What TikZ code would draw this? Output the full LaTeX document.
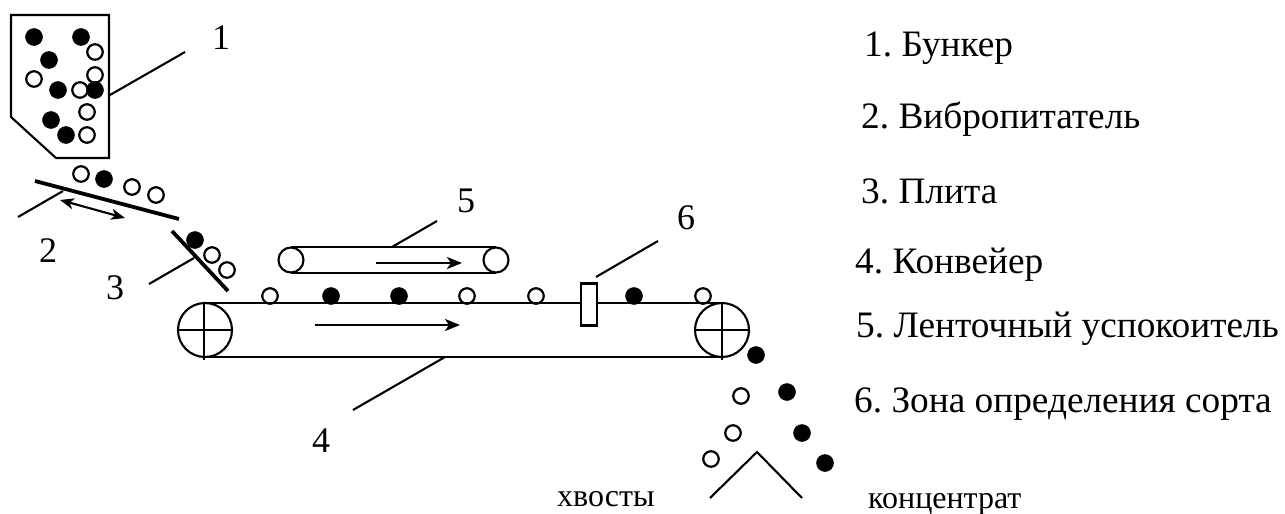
\documentclass[tikz,border=0pt]{standalone}
\usepackage{fontspec}
\usetikzlibrary{arrows.meta}
\setmainfont{Liberation Serif}
\frenchspacing
\begin{document}
\begin{tikzpicture}[x=1pt,y=-1pt,line cap=butt,
  ln/.style={draw=black,line width=2.1pt},
  thick3/.style={draw=black,line width=3.8pt},
  blk/.style={circle,fill=black,draw=black,line width=0.5pt,minimum size=17pt,inner sep=0pt},
  opn/.style={circle,draw=black,line width=2.2pt,minimum size=15.5pt,inner sep=0pt},
  whl/.style={circle,draw=black,line width=2.1pt,minimum size=54pt,inner sep=0pt},
  swhl/.style={circle,draw=black,fill=white,line width=2.1pt,minimum size=25pt,inner sep=0pt},
  num/.style={font=\fontsize{36}{38}\selectfont,inner sep=0pt},
  leg/.style={font=\fontsize{37.3}{39}\selectfont,anchor=base west,inner sep=0pt},
  small/.style={font=\fontsize{32}{34}\selectfont,anchor=base west,inner sep=0pt},
  arr/.style={draw=black,line width=2.6pt,-{Stealth[length=15pt,width=12pt,inset=4pt]}},
  darr/.style={draw=black,line width=2.1pt,{Stealth[length=14pt,width=11pt,inset=4pt]}-{Stealth[length=14pt,width=11pt,inset=4pt]}}]
\useasboundingbox (0,0) rectangle (1285,514);
% bunker
\draw[ln] (11,15) -- (109,15) -- (109,158) -- (56,158) -- (11,117) -- cycle;
\foreach \n/\p in {a/{34,37},b/{81,37},c/{49,60},d/{58,90},e/{95,90},f/{51,120},g/{66,135}}
  \node[blk] (bb\n) at (\p) {};
\foreach \n/\p in {a/{95,52},b/{95,75},c/{34,79},d/{80,90},e/{87,112},f/{87,135}}
  \node[opn] (bo\n) at (\p) {};
\coordinate (l1a) at (110,95); \coordinate (l1b) at (185,52);
\draw[ln] (l1a) -- (l1b);
\node[num] (n1) at (221,38) {1};
% vibrating feeder
\coordinate (v1) at (35,181); \coordinate (v2) at (179,219);
\draw[thick3] (v1) -- (v2);
\node[opn] (vo1) at (81,174) {};
\node[blk] (vb1) at (104,179) {};
\node[opn] (vo2) at (132,187) {};
\node[opn] (vo3) at (156,195) {};
\coordinate (l2a) at (18,217); \coordinate (l2b) at (63,191);
\draw[ln] (l2a) -- (l2b);
\coordinate (da) at (60,200); \coordinate (db) at (125,218);
\draw[darr] (da) -- (db);
\node[num] (n2) at (48,251) {2};
% plate
\coordinate (p1) at (172,231); \coordinate (p2) at (228,291);
\draw[thick3] (p1) -- (p2);
\node[blk] (pb1) at (195,240) {};
\node[opn] (po1) at (212,255) {};
\node[opn] (po2) at (227,270) {};
\coordinate (l3a) at (149,284); \coordinate (l3b) at (194,258);
\draw[ln] (l3a) -- (l3b);
\node[num] (n3) at (115,288) {3};
% conveyor
\node[whl] (wl) at (205,330) {};
\node[whl] (wr) at (722,330) {};
\coordinate (t1) at (204,303); \coordinate (t2) at (722,303);
\coordinate (b1) at (204,357); \coordinate (b2) at (722,357);
\draw[ln,line width=2.4pt] (t1) -- (t2);
\draw[ln,line width=2.4pt] (b1) -- (b2);
\draw[ln] (204,303) -- (204,360);
\draw[ln] (wl.west) -- (wl.east);
\draw[ln] (722,303) -- (722,360);
\draw[ln] (wr.west) -- (wr.east);
\coordinate (a4a) at (315,325); \coordinate (a4b) at (460,325);
\draw[arr] (a4a) -- (a4b);
\coordinate (l4a) at (445,357); \coordinate (l4b) at (353,410);
\draw[ln] (l4a) -- (l4b);
\node[num] (n4) at (321,441) {4};
\foreach \n/\x in {a/270,b/467,c/536,d/703}
  \node[opn] (co\n) at (\x,296) {};
\foreach \n/\x in {a/331,b/399,c/634}
  \node[blk] (cb\n) at (\x,296) {};
\node[draw=black,fill=white,line width=2.1pt,minimum width=16pt,minimum height=42pt,inner sep=0pt] (det) at (589,304.5) {};
% small conveyor
\coordinate (s1) at (291,247); \coordinate (s2) at (496,247);
\coordinate (s3) at (291,273); \coordinate (s4) at (496,273);
\draw[ln] (s1) -- (s2);
\draw[ln,line width=2.4pt] (s3) -- (s4);
\node[swhl] (sl) at (291,260) {};
\node[swhl] (sr) at (496,260) {};
\coordinate (a5a) at (376,263); \coordinate (a5b) at (462,263);
\draw[arr] (a5a) -- (a5b);
\coordinate (l5a) at (392,247); \coordinate (l5b) at (437,221);
\draw[ln] (l5a) -- (l5b);
\node[num] (n5) at (466,201) {5};
\coordinate (l6a) at (596,277); \coordinate (l6b) at (658,241);
\draw[ln] (l6a) -- (l6b);
\node[num] (n6) at (686,218) {6};
% falling
\foreach \n/\p in {a/{756,355},b/{787,392},c/{802,433},d/{825,463}}
  \node[blk] (fb\n) at (\p) {};
\foreach \n/\p in {a/{741,396},b/{733,433},c/{711,459}}
  \node[opn] (fo\n) at (\p) {};
\coordinate (va) at (710,498); \coordinate (vb) at (757,452); \coordinate (vc) at (802,498);
\draw[ln] (va) -- (vb) -- (vc);
\node[small] (tx) at (557,506) {хвосты};
\node[small] (tk) at (868,508) {концентрат};
% legend
\node[leg] (t1n) at (864,56) {1. Бункер};
\node[leg] (t2n) at (861,128) {2. Вибропитатель};
\node[leg] (t3n) at (861,203) {3. Плита};
\node[leg] (t4n) at (855,273) {4. Конвейер};
\node[leg] (t5n) at (856,337) {5. Ленточный успокоитель};
\node[leg] (t6n) at (854,412) {6. Зона определения сорта};
\end{tikzpicture}
\end{document}
